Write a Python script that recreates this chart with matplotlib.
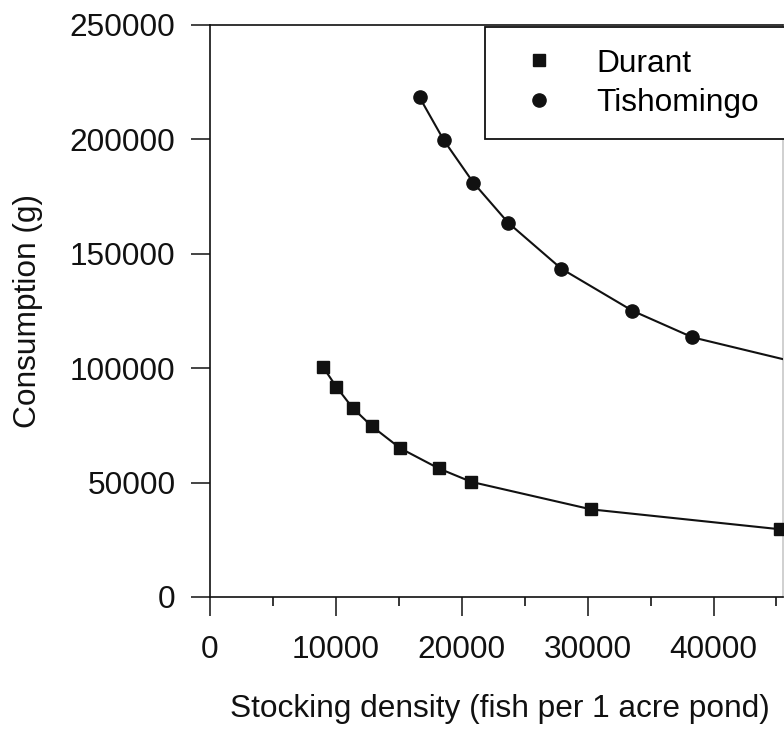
import matplotlib
matplotlib.use("Agg")
import matplotlib.pyplot as plt
from matplotlib.lines import Line2D
from matplotlib.ticker import MultipleLocator

# ---- data ----
durant_x = [8990, 10060, 11350, 12870, 15140, 18190, 20790, 30290, 45290]
durant_y = [100700, 91900, 82700, 74700, 65000, 56200, 50300, 38300, 29600]

tisho_x = [16670, 18600, 20940, 23700, 27920, 33570, 38330, 50000]
tisho_y = [218400, 199600, 181100, 163600, 143500, 125100, 113500, 98000]

x_ticks = [0, 10000, 20000, 30000, 40000]
y_ticks = [0, 50000, 100000, 150000, 200000, 250000]
series_names = ["Durant", "Tishomingo"]

FS = 22.8
plt.rcParams['font.family'] = ['Liberation Sans', 'DejaVu Sans']
INK = '#111111'

W, H = 784, 730
fig = plt.figure(figsize=(W / 100, H / 100), dpi=100)
left_px, right_px, top_px, bot_px = 209.5, 783.5, 25, 597
ax = fig.add_axes([left_px / W, 1 - bot_px / H, (right_px - left_px) / W, (bot_px - top_px) / H])

ax.plot(durant_x, durant_y, color=INK, lw=1.5, marker='s', ms=9, mfc=INK, mec=INK, zorder=3)
ax.plot(tisho_x, tisho_y, color=INK, lw=1.5, marker='o', ms=9.5, mfc=INK, mec=INK, zorder=3)

ax.set_xticks(x_ticks)
ax.set_xticklabels([str(v) for v in x_ticks])
ax.set_yticks(y_ticks)
ax.set_yticklabels([str(v) for v in y_ticks])
ax.xaxis.set_minor_locator(MultipleLocator(5000))
ax.set_xlim(0, (right_px - left_px) / 126.0 * 10000)
ax.set_ylim(0, 250000)

ax.tick_params(axis='x', which='major', direction='out', length=14, width=1.1, pad=13,
               labelsize=FS, colors=INK)
ax.tick_params(axis='x', which='minor', direction='out', length=6.5, width=1.1)
ax.tick_params(axis='y', which='major', direction='out', length=13.5, width=1.1, pad=11,
               labelsize=FS, colors=INK)
for s in ax.spines.values():
    s.set_linewidth(1.2)
    s.set_color(INK)
ax.spines['right'].set_color('#c8c8c8')

fig.text(500 / W, 1 - 709 / H, "Stocking density (fish per 1 acre pond)", ha='center', va='center',
         fontsize=FS, color=INK)
fig.text(28 / W, 1 - 311 / H, "Consumption (g)", ha='center', va='center', rotation=90,
         fontsize=FS, color=INK)

handles = [Line2D([], [], ls='None', marker='s', ms=9, color=INK),
           Line2D([], [], ls='None', marker='o', ms=9.5, color=INK)]
leg = ax.legend(handles, series_names, loc='upper left',
                bbox_to_anchor=(485 / W, 1 - 138 / H, (820 - 485) / W, 111 / H),
                bbox_transform=fig.transFigure, mode='expand', borderaxespad=0,
                fontsize=FS, frameon=True, fancybox=False, framealpha=1,
                edgecolor=INK, borderpad=0.68, labelspacing=0.29,
                handlelength=2.05, handletextpad=0.78)
leg.get_frame().set_linewidth(1.3)

fig.savefig("out.png", dpi=100)
